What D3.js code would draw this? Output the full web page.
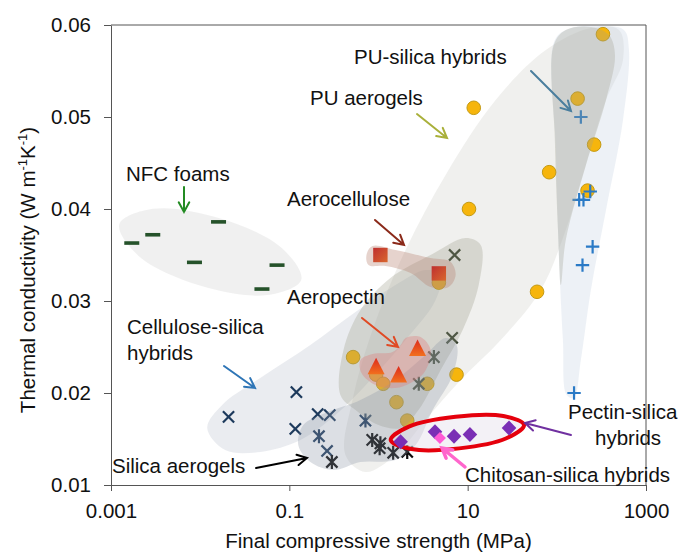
<!DOCTYPE html>
<html><head><meta charset="utf-8">
<script src="https://cdn.jsdelivr.net/npm/d3@7"></script>
<style>
html,body{margin:0;padding:0;background:#fff;}
svg{display:block;font-family:"Liberation Sans",Arial,sans-serif;}
</style></head>
<body><svg id="c" width="683" height="552"></svg>
<script>
// ---- data: [final compressive strength (MPa), thermal conductivity (W/mK)] ----
const xTickValues = [0.001, 0.1, 10, 1000];
const xTickLabels = ["0.001", "0.1", "10", "1000"];
const yTickValues = [0.01, 0.02, 0.03, 0.04, 0.05, 0.06];
const yTickLabels = ["0.01", "0.02", "0.03", "0.04", "0.05", "0.06"];

const puAerogels = [[0.519,0.0239],[0.94,0.022],[1.13,0.021],[1.59,0.019],[2.1,0.017],[3.52,0.021],[4.75,0.032],[7.5,0.022],[10.35,0.040],[11.7,0.051],[60,0.031],[82,0.044],[171,0.052],[221,0.042],[262,0.047],[329,0.059]];
const puSilicaHybrids = [[186,0.050],[178,0.041],[199,0.041],[237,0.0419],[252,0.0359],[194,0.0339],[156,0.020]];
const aerocellulose = [[1.05,0.035],[4.75,0.033]];
const aeropectin = [[2.74,0.0249],[0.94,0.0229],[1.68,0.022]];
const celluloseAerogelsX = [[7.14,0.035],[6.7,0.026]];
const celluloseAerogelsStar = [[4.18,0.0239],[2.83,0.021]];
const celluloseSilicaHybrids = [[0.0208,0.0174],[0.12,0.0201],[0.1167,0.0161],[0.208,0.0177],[0.284,0.0176],[0.265,0.0137]];
const celluloseSilicaStar = [[0.215,0.0153],[0.714,0.017]];
const silicaAerogels = [[0.30,0.0125],[0.85,0.0149],[1.05,0.01453],[1.03,0.0140],[1.46,0.0135],[2.1,0.0136]];
const nfcFoams = [[0.00171,0.0363],[0.00294,0.0372],[0.01607,0.0386],[0.00863,0.0342],[0.0728,0.0339],[0.0493,0.0313]];
const pectinSilicaHybrids = [[1.77,0.0147],[4.3,0.0158],[7.03,0.0153],[10.6,0.0155],[29.1,0.0162]];
const chitosanSilicaHybrids = [[4.89,0.0151]];

// shaded group outlines (data units)
const regionPU = [[0.426,0.01326],[0.511,0.01924],[0.857,0.02685],[2.01,0.03554],[5.66,0.0437],[20.6,0.05185],[75.2,0.05728],[241,0.05967],[498,0.05946],[552,0.0562],[356,0.05185],[212,0.04478],[126,0.03772],[66.1,0.0312],[23.5,0.02576],[8.34,0.02141],[3.37,0.01707],[1.55,0.01326],[0.714,0.01141]];
const regionPUSilica = [[95,0.05837],[144,0.05967],[312,0.05989],[566,0.05946],[644,0.05728],[552,0.04967],[356,0.03989],[241,0.0312],[186,0.02359],[155,0.01946],[129,0.01978],[117,0.02576],[105,0.03554],[97.5,0.04641]];
const regionPUOverlap = [[92.5,0.05783],[126,0.05946],[241,0.05978],[384,0.05891],[449,0.05674],[356,0.05185],[212,0.04478],[126,0.03663],[111,0.03174],[103,0.03772],[95,0.0475]];
const regionCelluloseSilica = [[0.012,0.0162],[0.01766,0.0187],[0.0472,0.02163],[0.172,0.02522],[0.552,0.0288],[1.55,0.03174],[3.37,0.03337],[4.98,0.03283],[4.37,0.03011],[2.01,0.02576],[0.813,0.02141],[0.329,0.01761],[0.133,0.01489],[0.0472,0.01359],[0.0191,0.0138]];
const regionSilica = [[0.126,0.01435],[0.1435,0.01652],[0.2535,0.01783],[0.628,0.01924],[1.55,0.02141],[3.37,0.02413],[5.66,0.02598],[7.52,0.02522],[6.78,0.02196],[4.05,0.01815],[2.61,0.01435],[1.55,0.01272],[0.628,0.0125],[0.312,0.01163],[0.172,0.0125]];
const regionCelluloseAerogels = [[0.374,0.01978],[0.405,0.02467],[0.628,0.02902],[1.36,0.0325],[3.84,0.035],[9.5,0.03685],[14.0,0.03609],[13.3,0.03174],[8.79,0.02685],[4.98,0.0225],[2.81,0.01815],[1.77,0.0162],[1.0,0.01652],[0.552,0.01815]];
const regionAerocellulose = [[0.733,0.035],[0.857,0.03598],[1.55,0.03554],[3.84,0.03467],[6.44,0.03424],[7.33,0.03283],[6.12,0.03152],[3.84,0.03152],[2.29,0.03304],[1.2,0.0338],[0.773,0.03391]];
const regionAeropectin = [[2.01,0.02598],[2.96,0.02609],[3.84,0.02467],[3.29,0.02228],[2.29,0.02109],[1.55,0.02054],[0.925,0.02087],[0.644,0.02217],[0.628,0.02359],[0.857,0.02424],[1.44,0.02446],[1.77,0.02522]];
const regionNFC = [[0.136,0.03232],[0.0566,0.03065],[0.00995,0.03168],[0.00204,0.03489],[0.00124,0.03834],[0.00296,0.04002],[0.01686,0.03897],[0.0822,0.03576]];
const ellipsePectinSilica = [[42.9,0.01652],[26.8,0.01505],[8.02,0.01398],[2.34,0.01391],[1.37,0.01489],[2.19,0.01635],[7.31,0.01743],[25.1,0.0175]];

// ---- drawing ----
const svg = d3.select("#c");
const L = 111, R = 646, T = 25, B = 485;
const x = d3.scaleLog().domain([0.001, 1000]).range([L, R]);
const y = d3.scaleLinear().domain([0.01, 0.06]).range([B, T]);
const FONT = 20.5;

const defs = svg.append("defs");
defs.append("clipPath").attr("id","plot").append("rect").attr("x",L).attr("y",T).attr("width",R-L).attr("height",B-T);
const gTri = defs.append("linearGradient").attr("id","gTri").attr("x1",0).attr("y1",0).attr("x2",0).attr("y2",1);
gTri.append("stop").attr("offset","0%").attr("stop-color","#dd2a1c");
gTri.append("stop").attr("offset","100%").attr("stop-color","#f2701e");
const gSq = defs.append("linearGradient").attr("id","gSq").attr("x1",0).attr("y1",0).attr("x2",1).attr("y2",1);
gSq.append("stop").attr("offset","0%").attr("stop-color","#bf2f2f");
gSq.append("stop").attr("offset","100%").attr("stop-color","#d9672e");

const area = d3.line().x(d => x(d[0])).y(d => y(d[1])).curve(d3.curveCatmullRomClosed.alpha(0.5));
const plot = svg.append("g").attr("clip-path","url(#plot)");
function region(data, color, op){
  plot.append("path").attr("d", area(data)).attr("fill", color).attr("fill-opacity", op).attr("stroke","none");
}

// light regions (below markers)
region(regionNFC, "#c4c4c4", 0.26);
region(regionPU, "#c8c8c0", 0.27);
region(regionPUSilica, "#c4cfe0", 0.3);
region(regionCelluloseSilica, "#aab4c4", 0.25);

// marker helpers
const mk = plot.append("g");
function circles(data){
  mk.selectAll(null).data(data).join("circle")
    .attr("cx", d => x(d[0])).attr("cy", d => y(d[1])).attr("r", 6.8)
    .attr("fill", "#f6b50c").attr("stroke", "#c39a14").attr("stroke-width", 1);
}
function pluses(data, color){
  mk.selectAll(null).data(data).join("path")
    .attr("transform", d => `translate(${x(d[0])},${y(d[1])})`)
    .attr("d", "M-6.7,0H6.7M0,-6.7V6.7").attr("stroke", color).attr("stroke-width", 2.2).attr("fill","none");
}
function crosses(data, color, star){
  mk.selectAll(null).data(data).join("path")
    .attr("transform", d => `translate(${x(d[0])},${y(d[1])})`)
    .attr("d", "M-5.6,-5.6L5.6,5.6M-5.6,5.6L5.6,-5.6" + (star ? "M0,-7V7" : ""))
    .attr("stroke", color).attr("stroke-width", 2.2).attr("fill","none");
}
function dashes(data, color){
  mk.selectAll(null).data(data).join("rect")
    .attr("x", d => x(d[0]) - 7.5).attr("y", d => y(d[1]) - 1.8).attr("width", 15).attr("height", 3.6)
    .attr("fill", color);
}

circles(puAerogels);
pluses(puSilicaHybrids, "#2a7ac6");
crosses(celluloseSilicaHybrids, "#1d3a5c", false);
crosses(celluloseSilicaStar, "#1d3a5c", true);
crosses(silicaAerogels, "#0a0a0a", true);
crosses(celluloseAerogelsX, "#2f3a28", false);
crosses(celluloseAerogelsStar, "#2f3a28", true);
dashes(nfcFoams, "#25522a");

// darker regions (over markers)
region(regionPUOverlap, "#a0a090", 0.3);
region(regionCelluloseAerogels, "#9a9a88", 0.3);
region(regionSilica, "#8a96a4", 0.3);
region(regionAerocellulose, "#b88070", 0.35);
region(regionAeropectin, "#e07878", 0.35);

// squares, triangles
const mk2 = plot.append("g");
mk2.selectAll(null).data(aerocellulose).join("rect")
  .attr("x", d => x(d[0]) - 7.2).attr("y", d => y(d[1]) - 7.2).attr("width", 14.4).attr("height", 14.4)
  .attr("fill", "url(#gSq)");
mk2.selectAll(null).data(aeropectin).join("path")
  .attr("transform", d => `translate(${x(d[0])},${y(d[1])})`)
  .attr("d", "M0,-8.5L8.5,8L-8.5,8Z").attr("fill", "url(#gTri)");

// pectin-silica ellipse and diamonds
plot.append("path").attr("d", area(ellipsePectinSilica))
  .attr("fill", "#e4dfea").attr("fill-opacity", 0.45).attr("stroke", "#e5000c").attr("stroke-width", 4);
const mk3 = plot.append("g");
mk3.selectAll(null).data(pectinSilicaHybrids).join("path")
  .attr("transform", d => `translate(${x(d[0])},${y(d[1])})`)
  .attr("d", "M0,-7.5L7.3,0L0,7.5L-7.3,0Z").attr("fill", "#7a2fb5");
mk3.selectAll(null).data(chitosanSilicaHybrids).join("path")
  .attr("transform", d => `translate(${x(d[0])},${y(d[1])})`)
  .attr("d", "M0,-6L6,0L0,6L-6,0Z").attr("fill", "#ff5ad4");

// ---- axes ----
const axisColor = "#555";
const xAxis = svg.append("g").attr("transform", `translate(0,${B})`)
  .call(d3.axisBottom(x).tickValues(xTickValues).tickFormat((d,i) => xTickLabels[i]).tickSize(6).tickSizeOuter(0));
const yAxis = svg.append("g").attr("transform", `translate(${L},0)`)
  .call(d3.axisLeft(y).tickValues(yTickValues).tickFormat((d,i) => yTickLabels[i]).tickSize(7).tickSizeOuter(0));
[xAxis, yAxis].forEach(g => {
  g.selectAll("path,line").attr("stroke", axisColor);
  g.selectAll("text").attr("font-size", FONT).attr("fill", "#111").attr("font-family", "Liberation Sans, Arial, sans-serif");
});
xAxis.selectAll("text").attr("y", 18.5);
yAxis.selectAll("text").attr("x", -20);
svg.append("path").attr("d", `M${L},${T}H${R}V${B}`).attr("fill","none").attr("stroke", axisColor);

svg.append("text").attr("x", (L+R)/2).attr("y", 548).attr("text-anchor","middle")
  .attr("font-size", FONT).attr("fill","#111").text("Final compressive strength (MPa)");
const yt = svg.append("text").attr("transform","translate(35,270) rotate(-90)").attr("text-anchor","middle")
  .attr("font-size", FONT).attr("fill","#111");
yt.append("tspan").text("Thermal conductivity (W m");
yt.append("tspan").attr("font-size", 13).attr("dy", -8).text("-1");
yt.append("tspan").attr("dy", 8).text("K");
yt.append("tspan").attr("font-size", 13).attr("dy", -8).text("-1");
yt.append("tspan").attr("dy", 8).text(")");

// ---- annotations ----
function arrow(x1, y1, x2, y2, color, w){
  const a = Math.atan2(y2 - y1, x2 - x1), h = 11, s = 0.5;
  const p1 = [x2 - h*Math.cos(a - s), y2 - h*Math.sin(a - s)];
  const p2 = [x2 - h*Math.cos(a + s), y2 - h*Math.sin(a + s)];
  svg.append("path").attr("d", `M${x1},${y1}L${x2},${y2}M${p1[0]},${p1[1]}L${x2},${y2}L${p2[0]},${p2[1]}`)
    .attr("fill","none").attr("stroke", color).attr("stroke-width", w).attr("stroke-linecap","round").attr("stroke-linejoin","miter");
}
function label(t, lx, ly){
  svg.append("text").attr("x", lx).attr("y", ly).attr("font-size", FONT).attr("fill","#111").text(t);
}
label("PU-silica hybrids", 354, 64);
label("PU aerogels", 310, 105);
label("NFC foams", 126, 181);
label("Aerocellulose", 287, 206);
label("Aeropectin", 287, 304);
label("Cellulose-silica", 127, 334);
label("hybrids", 127, 360);
label("Silica aerogels", 112, 473);
label("Pectin-silica", 568, 419);
label("hybrids", 595, 445);
label("Chitosan-silica hybrids", 465, 482);

arrow(531, 71, 571, 111, "#4a7e9e", 2);
arrow(417, 114, 447, 138, "#a9b03a", 2);
arrow(184, 187, 184, 212, "#238b23", 2);
arrow(375, 220, 404, 245, "#8b2a1a", 2);
arrow(362, 318, 398, 347, "#e04a24", 2);
arrow(224, 366, 255, 388, "#2e75b6", 2);
arrow(256, 468, 307, 458, "#000", 2);
arrow(571, 435, 525, 423, "#7030a0", 2);
arrow(465, 467, 442, 448, "#ff66cc", 3.5);
</script></body></html>
